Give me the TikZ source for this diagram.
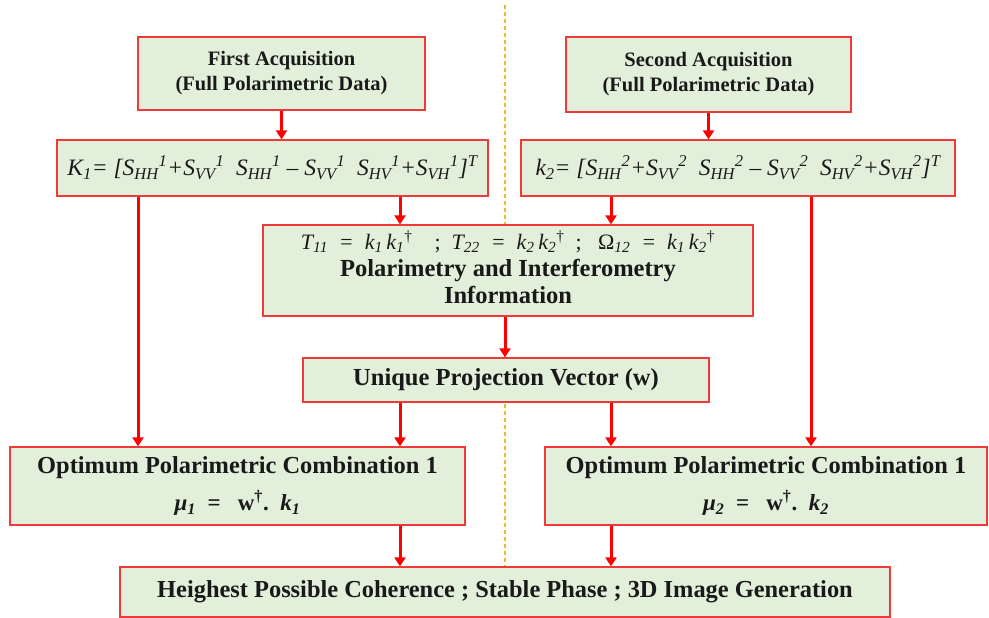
\documentclass[tikz,border=0pt]{standalone}
\usepackage{fontspec}
\setmainfont{Liberation Serif}
\usetikzlibrary{arrows.meta}
\definecolor{boxfill}{HTML}{E2EFDA}
\definecolor{boxline}{HTML}{F03A3A}
\definecolor{arrred}{HTML}{FF0000}
\definecolor{divider}{HTML}{F5B530}
\newcommand{\sbs}[1]{\textsubscript{#1}}
\newcommand{\sps}[1]{\textsuperscript{#1}}
\begin{document}
\begin{tikzpicture}[x=1pt,y=-1pt,
  box/.style={draw=boxline, line width=1.3pt, fill=boxfill, rectangle, inner sep=0pt, align=center, text=black!90},
  plain/.style={inner sep=0pt, align=center, text=black!90},
  arr/.style={draw=arrred, line width=3pt, -{Triangle[length=9pt,width=11pt]}},
  titletext/.style={font=\bfseries\fontsize{20.5}{25}\selectfont},
  boldtext/.style={font=\bfseries\fontsize{24.4}{28}\selectfont}]
\useasboundingbox (0,0) rectangle (989,618);
% centre divider
\draw[draw=divider, line width=1.3pt, dash pattern=on 4pt off 3pt] (505,5) -- (505,570);
% boxes
\node[box, titletext, minimum width=287pt, minimum height=73pt] (acq1) at (281.5,73.5)
  {First Acquisition\\(Full Polarimetric Data)};
\node[box, titletext, minimum width=285pt, minimum height=75pt] (acq2) at (708.5,74.5)
  {Second Acquisition\\(Full Polarimetric Data)};
\node[box, minimum width=431pt, minimum height=56pt, font=\itshape\fontsize{23.5}{26}\selectfont] (K1) at (272.5,168)
  {K\sbs{1}= [S\sbs{HH}\sps{1}+S\sbs{VV}\sps{1}\ \ S\sbs{HH}\sps{1} -- S\sbs{VV}\sps{1}\ \ S\sbs{HV}\sps{1}+S\sbs{VH}\sps{1}]\sps{T}};
\node[box, minimum width=434pt, minimum height=56pt, font=\itshape\fontsize{23.5}{26}\selectfont] (k2) at (738,168)
  {k\sbs{2}= [S\sbs{HH}\sps{2}+S\sbs{VV}\sps{2}\ \ S\sbs{HH}\sps{2} -- S\sbs{VV}\sps{2}\ \ S\sbs{HV}\sps{2}+S\sbs{VH}\sps{2}]\sps{T}};
\node[box, minimum width=490pt, minimum height=91pt] (T) at (508,270.5) {};
\node[plain, yshift=3pt, font=\bfseries\fontsize{24.5}{28}\selectfont] (Ttext) at (T.center)
  {{\mdseries\fontsize{22}{24}\selectfont\textit{T\sbs{11}\enspace=\enspace k\sbs{1}\,k\sbs{1}}\sps{†}\quad ;\enspace \textit{T\sbs{22}\enspace=\enspace k\sbs{2}\,k\sbs{2}}\sps{†}\enspace;\enspace\ Ω\sbs{\itshape 12}\enspace\textit{=\enspace k\sbs{1}\,k\sbs{2}}\sps{†}}\\[-1pt]
   Polarimetry and Interferometry\\[-1pt]
   \bfseries Information};
\node[box, minimum width=406pt, minimum height=44pt, font=\bfseries\fontsize{24.5}{28}\selectfont] (uv) at (506,380)
  {Unique Projection Vector (w)};
\node[box, minimum width=455pt, minimum height=78pt, boldtext] (op1) at (237.5,486)
  {Optimum Polarimetric Combination 1\\[9pt]
   \fontsize{23}{26}\selectfont\textit{μ\sbs{1}}\enspace=\enspace\ w\sps{†}.\ \ \textit{k\sbs{1}}};
\node[box, minimum width=442pt, minimum height=78pt, boldtext] (op2) at (766,486)
  {Optimum Polarimetric Combination 1\\[9pt]
   \fontsize{23}{26}\selectfont\textit{μ\sbs{2}}\enspace=\enspace\ w\sps{†}.\ \ \textit{k\sbs{2}}};
\node[box, minimum width=770pt, minimum height=50pt, boldtext] (res) at (505,592)
  {Heighest Possible Coherence ; Stable Phase ; 3D Image Generation};
% arrow columns
\coordinate (cL) at (400,0);
\coordinate (cR) at (611,0);
\coordinate (cM) at (505,0);
\coordinate (cLL) at (138,0);
\coordinate (cRR) at (811,0);
% connectors
\draw[arr] (acq1.south) -- (acq1.south |- K1.north);
\draw[arr] (acq2.south) -- (acq2.south |- k2.north);
\draw[arr] (cL |- K1.south) -- (cL |- T.north);
\draw[arr] (cR |- k2.south) -- (cR |- T.north);
\draw[arr] (cLL |- K1.south) -- (cLL |- op1.north);
\draw[arr] (cRR |- k2.south) -- (cRR |- op2.north);
\draw[arr] (cM |- T.south) -- (cM |- uv.north);
\draw[arr] (cL |- uv.south) -- (cL |- op1.north);
\draw[arr] (cR |- uv.south) -- (cR |- op2.north);
\draw[arr] (cL |- op1.south) -- (cL |- res.north);
\draw[arr] (cR |- op2.south) -- (cR |- res.north);
\end{tikzpicture}
\end{document}
